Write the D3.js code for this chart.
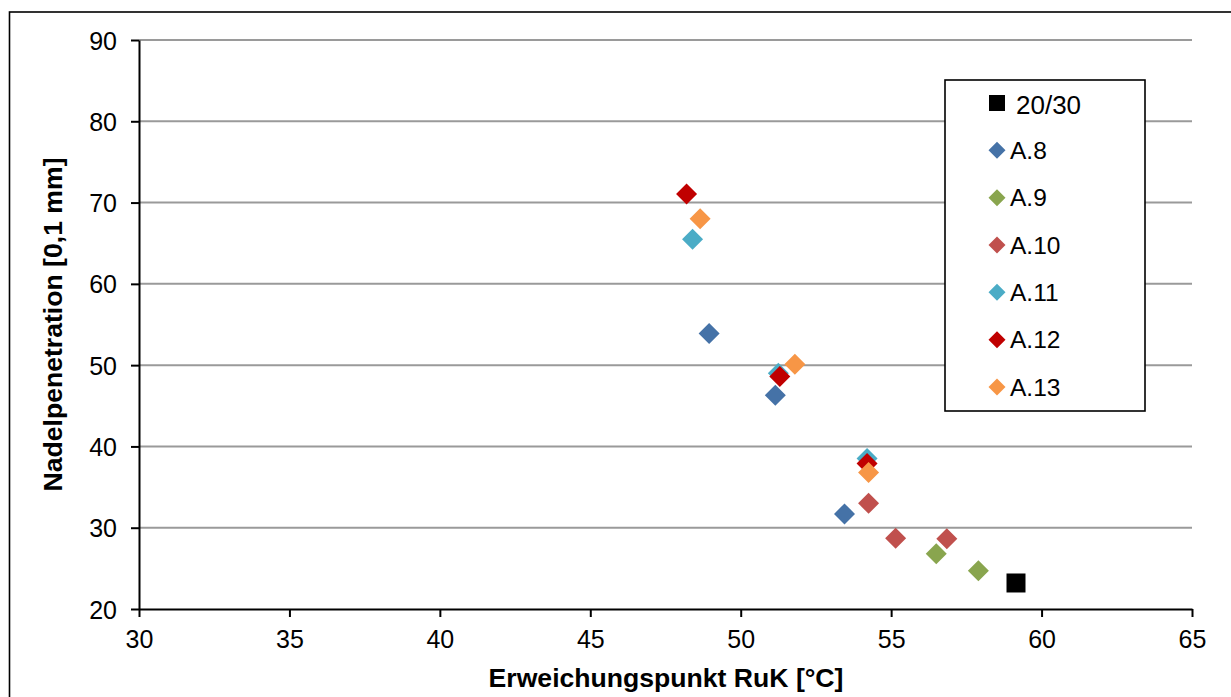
<!DOCTYPE html>
<html>
<head>
<meta charset="utf-8">
<script src="https://cdn.jsdelivr.net/npm/d3@7"></script>
<style>
  html, body { margin: 0; padding: 0; background: #fff; }
  svg { display: block; font-family: "Liberation Sans", Arial, sans-serif; }
</style>
</head>
<body>
<svg id="chart" width="1231" height="697"></svg>
<script>
// Softening point (x, °C) vs. needle penetration (y, 0.1 mm)
const seriesNames = ["20/30", "A.8", "A.9", "A.10", "A.11", "A.12", "A.13"];
const bitumen2030 = [[59.15, 23.2]];
const a8  = [[48.95, 53.9], [51.15, 46.3], [53.45, 31.7]];
const a9  = [[56.5, 26.8], [57.9, 24.7]];
const a10 = [[54.25, 33.0], [55.15, 28.7], [56.85, 28.65]];
const a11 = [[48.4, 65.5], [51.25, 49.0], [54.2, 38.5]];
const a12 = [[48.2, 71.05], [51.3, 48.6], [54.2, 37.9]];
const a13 = [[48.65, 68.0], [51.8, 50.1], [54.25, 36.8]];
const seriesValues = [bitumen2030, a8, a9, a10, a11, a12, a13];
const xTicks = [30, 35, 40, 45, 50, 55, 60, 65];
const yTicks = [20, 30, 40, 50, 60, 70, 80, 90];
const xTitle = "Erweichungspunkt RuK [°C]";
const yTitle = "Nadelpenetration [0,1 mm]";

const colors = ["#000000", "#4572A7", "#89A54E", "#C0504D", "#4BACC6", "#C00000", "#F79646"];
const shapes = ["square", "diamond", "diamond", "diamond", "diamond", "diamond", "diamond"];

const svg = d3.select("#chart");
const plot = { left: 139, right: 1192, top: 40, bottom: 609 };

// outer chart frame (runs off the right and bottom edges)
svg.append("rect")
  .attr("x", 9.5).attr("y", 12)
  .attr("width", 1240).attr("height", 700)
  .attr("fill", "none").attr("stroke", "#000").attr("stroke-width", 1.6);

const x = d3.scaleLinear().domain([30, 65]).range([plot.left, plot.right]);
const y = d3.scaleLinear().domain([20, 90]).range([plot.bottom, plot.top]);

// horizontal gridlines
svg.append("g")
  .selectAll("line")
  .data(yTicks.filter(t => t !== 20))
  .join("line")
  .attr("x1", plot.left).attr("x2", plot.right)
  .attr("y1", d => y(d)).attr("y2", d => y(d))
  .attr("stroke", "#9a9a9a").attr("stroke-width", 2);

// axes
const xAxis = svg.append("g")
  .attr("transform", `translate(0,${plot.bottom})`)
  .call(d3.axisBottom(x).tickValues(xTicks).tickSize(8).tickSizeOuter(0).tickPadding(13));
const yAxis = svg.append("g")
  .attr("transform", `translate(${plot.left},0)`)
  .call(d3.axisLeft(y).tickValues(yTicks).tickSize(8).tickSizeOuter(0).tickPadding(14));

[xAxis, yAxis].forEach(g => {
  g.select(".domain").attr("stroke", "#000").attr("stroke-width", 2);
  g.selectAll(".tick line").attr("stroke", "#000").attr("stroke-width", 2);
  g.selectAll(".tick text")
    .attr("fill", "#000")
    .style("font-family", '"Liberation Sans", Arial, sans-serif')
    .style("font-size", "25px");
});
xAxis.selectAll(".tick text").attr("dy", "0.71em");
yAxis.selectAll(".tick text").attr("dy", "0.36em");

// axis titles
svg.append("text")
  .attr("x", (plot.left + plot.right) / 2 + 0.5).attr("y", 687)
  .attr("text-anchor", "middle")
  .style("font-size", "26.6px").style("font-weight", "bold")
  .text(xTitle);
svg.append("text")
  .attr("transform", `translate(62,${(plot.top + plot.bottom) / 2}) rotate(-90)`)
  .attr("text-anchor", "middle")
  .style("font-size", "26.6px").style("font-weight", "bold")
  .text(yTitle);

// marker symbol paths
function markerPath(shape, size) {
  const h = size / 2;
  if (shape === "square") return `M${-h},${-h}H${h}V${h}H${-h}Z`;
  return `M0,${-h}L${h},0L0,${h}L${-h},0Z`;
}

// data points, later series on top
const marks = svg.append("g");
seriesValues.forEach((vals, i) => {
  marks.append("g")
    .selectAll("path")
    .data(vals)
    .join("path")
    .attr("transform", d => `translate(${x(d[0])},${y(d[1])})`)
    .attr("d", markerPath(shapes[i], shapes[i] === "square" ? 19 : 21))
    .attr("fill", colors[i]);
});

// legend
const legend = svg.append("g");
legend.append("rect")
  .attr("x", 945).attr("y", 80)
  .attr("width", 200).attr("height", 331)
  .attr("fill", "#fff").attr("stroke", "#000").attr("stroke-width", 1.6);
const rowY = d3.scalePoint().domain(seriesNames).range([103, 387]);
seriesNames.forEach((name, i) => {
  const cy = rowY(name);
  legend.append("path")
    .attr("transform", `translate(997,${cy})`)
    .attr("d", markerPath(shapes[i], shapes[i] === "square" ? 16 : 17))
    .attr("fill", colors[i]);
  legend.append("text")
    .attr("x", i === 0 ? 1016 : 1010).attr("y", cy)
    .attr("dy", i === 0 ? "0.42em" : "0.36em")
    .style("font-size", i === 0 ? "26px" : "24.5px")
    .text(name);
});
</script>
</body>
</html>
